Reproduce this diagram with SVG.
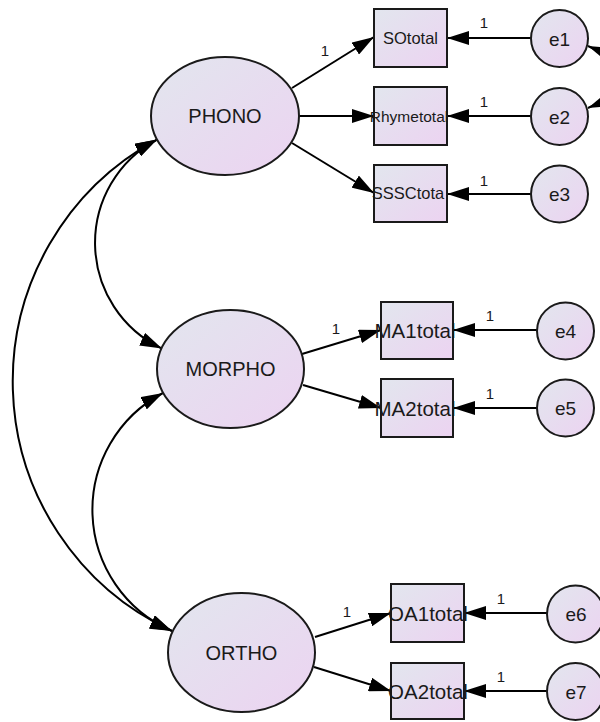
<svg xmlns="http://www.w3.org/2000/svg" width="600" height="722" viewBox="0 0 600 722">
<defs>
<linearGradient id="g" x1="0" y1="0" x2="1" y2="1">
<stop offset="0" stop-color="#e2e6ee"/>
<stop offset="1" stop-color="#ecd3f1"/>
</linearGradient>
<marker id="ah" viewBox="0 0 22 14" refX="22" refY="7" markerWidth="22" markerHeight="14" markerUnits="userSpaceOnUse" orient="auto-start-reverse">
<path d="M0,0 L22,7 L0,14 z" fill="#000"/>
</marker>
<style>
.n{fill:url(#g);stroke:#1a1a1a;stroke-width:2}
.t{font-family:"Liberation Sans",Arial,sans-serif;fill:#1a1a1a;text-anchor:middle}
.c{fill:none;stroke:#000;stroke-width:2}
.a{marker-end:url(#ah)}
.b{marker-start:url(#ah);marker-end:url(#ah)}
.l{font-family:"Liberation Sans",Arial,sans-serif;font-size:15px;fill:#1a1a1a;text-anchor:middle}
</style>
</defs>
<rect width="600" height="722" fill="#fff"/>

<g id="connectors">
<path class="c a" d="M292,88 L374,37"/>
<path class="c a" d="M299,116 L374,116"/>
<path class="c a" d="M292,143 L374,193"/>
<path class="c a" d="M531,38 L447,38"/>
<path class="c a" d="M531,116 L447,116"/>
<path class="c a" d="M531,194 L447,194"/>
<path class="c a" d="M302,354 L381,330"/>
<path class="c a" d="M303,385 L381,408"/>
<path class="c a" d="M537,330 L453,330"/>
<path class="c a" d="M537,408 L453,408"/>
<path class="c a" d="M315,637 L391,613"/>
<path class="c a" d="M314,667 L391,691"/>
<path class="c a" d="M547,613 L464,613"/>
<path class="c a" d="M547,691 L464,691"/>
<path class="c b" d="M157,139.6 A117,117 0 0 0 162,348.6"/>
<path class="c b" d="M163,393 A132,132 0 0 0 172,631"/>
<path class="c b" d="M157,139.6 A275,275 0 0 0 172,631"/>
<path class="c b" d="M588,46 C622,60 622,94 588,108"/>
<text class="l" x="325" y="56">1</text>
<text class="l" x="484" y="28">1</text>
<text class="l" x="484" y="107">1</text>
<text class="l" x="484" y="186">1</text>
<text class="l" x="336" y="334">1</text>
<text class="l" x="490" y="321">1</text>
<text class="l" x="490" y="399">1</text>
<text class="l" x="347" y="617">1</text>
<text class="l" x="501" y="604">1</text>
<text class="l" x="501" y="682">1</text>
</g>

<g id="PHONO"><ellipse class="n" cx="225" cy="116" rx="74" ry="59"/><text class="t" x="225" y="123" font-size="20">PHONO</text></g>
<g id="MORPHO"><ellipse class="n" cx="230.5" cy="369" rx="73.5" ry="59"/><text class="t" x="230.5" y="376" font-size="20">MORPHO</text></g>
<g id="ORTHO"><ellipse class="n" cx="241.5" cy="652.5" rx="73.5" ry="59.5"/><text class="t" x="241.5" y="660" font-size="20">ORTHO</text></g>

<g id="SOtotal"><rect class="n" x="374" y="9" width="73" height="58"/><text class="t" x="410.5" y="44" font-size="16.5">SOtotal</text></g>
<g id="Rhymetotal"><rect class="n" x="374" y="87" width="73" height="58"/><text class="t" x="409" y="121.5" font-size="15.5">Rhymetotal</text></g>
<g id="SSSCtotal"><rect class="n" x="374" y="165" width="73" height="57"/><text class="t" x="408" y="199" font-size="16.5">SSSCtota</text></g>
<g id="MA1total"><rect class="n" x="381" y="302" width="72" height="57"/><text class="t" x="415" y="337.5" font-size="20.5">MA1total</text></g>
<g id="MA2total"><rect class="n" x="381" y="379" width="72" height="58"/><text class="t" x="415" y="415.5" font-size="20.5">MA2total</text></g>
<g id="OA1total"><rect class="n" x="391" y="584" width="73" height="58"/><text class="t" x="428" y="620.5" font-size="20.5">OA1total</text></g>
<g id="OA2total"><rect class="n" x="391" y="663" width="73" height="56"/><text class="t" x="428" y="698.5" font-size="20.5">OA2total</text></g>

<g id="e1"><circle class="n" cx="559.5" cy="38.5" r="28.5"/><text class="t" x="559.5" y="45.5" font-size="19">e1</text></g>
<g id="e2"><circle class="n" cx="559.5" cy="116.5" r="28.5"/><text class="t" x="559.5" y="123.5" font-size="19">e2</text></g>
<g id="e3"><circle class="n" cx="559.5" cy="194" r="28.5"/><text class="t" x="559.5" y="201" font-size="19">e3</text></g>
<g id="e4"><circle class="n" cx="565.5" cy="331" r="28.5"/><text class="t" x="565.5" y="338" font-size="19">e4</text></g>
<g id="e5"><circle class="n" cx="565.5" cy="408" r="28.5"/><text class="t" x="565.5" y="415" font-size="19">e5</text></g>
<g id="e6"><circle class="n" cx="575.5" cy="614" r="28.5"/><text class="t" x="576" y="621" font-size="19">e6</text></g>
<g id="e7"><circle class="n" cx="575.5" cy="691.5" r="28.5"/><text class="t" x="576" y="698.5" font-size="19">e7</text></g>
</svg>
